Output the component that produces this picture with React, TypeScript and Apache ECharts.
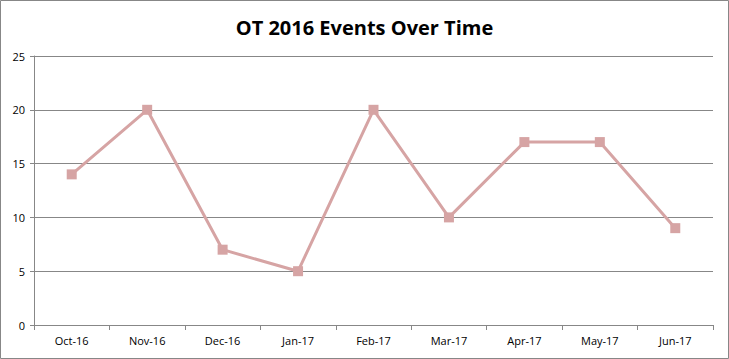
import React, { useEffect, useRef } from "react";
import * as echarts from "echarts";

const categories = ["Oct-16", "Nov-16", "Dec-16", "Jan-17", "Feb-17", "Mar-17", "Apr-17", "May-17", "Jun-17"];
const events = [14, 20, 7, 5, 20, 10, 17, 17, 9];
const titleText = "OT 2016 Events Over Time";

export default function App() {
  const ref = useRef<HTMLDivElement>(null);
  useEffect(() => {
    if (!ref.current) return;
    const chart = echarts.init(ref.current, undefined, { renderer: "svg" });
    chart.setOption({
      animation: false,
      backgroundColor: "#ffffff",
      textStyle: { fontFamily: "Open Sans" },
      title: {
        text: titleText,
        left: "center",
        top: 12,
        textStyle: { fontFamily: "Open Sans", fontSize: 20, fontWeight: "bold", color: "#000000" },
      },
      graphic: [
        {
          type: "rect",
          shape: { x: 0.5, y: 0.5, width: 728, height: 358 },
          style: { fill: "none", stroke: "#878787", lineWidth: 1 },
          silent: true,
        },
      ],
      grid: { left: 34, right: 16, top: 56, bottom: 34, containLabel: false },
      xAxis: {
        type: "category",
        data: categories,
        boundaryGap: true,
        axisLine: { show: true, lineStyle: { color: "#878787", width: 1 } },
        axisTick: { show: true, alignWithLabel: false, length: 5, lineStyle: { color: "#878787" } },
        axisLabel: { color: "#000000", fontSize: 11, margin: 10, interval: 0 },
        splitLine: { show: false },
      },
      yAxis: {
        type: "value",
        min: 0,
        max: 25,
        interval: 5,
        axisLine: { show: true, lineStyle: { color: "#878787", width: 1 } },
        axisTick: { show: true, length: 4, lineStyle: { color: "#878787" } },
        axisLabel: { color: "#000000", fontSize: 11, margin: 9 },
        splitLine: { show: true, lineStyle: { color: "#878787", width: 1 } },
      },
      series: [
        {
          type: "line",
          data: events,
          symbol: "rect",
          symbolSize: 10,
          lineStyle: { color: "#d6a4a4", width: 3 },
          itemStyle: { color: "#d6a4a4" },
        },
      ],
    });
    return () => chart.dispose();
  }, []);
  return <div ref={ref} style={{ position: "fixed", left: 0, top: 0, width: 729, height: 359 }} />;
}
